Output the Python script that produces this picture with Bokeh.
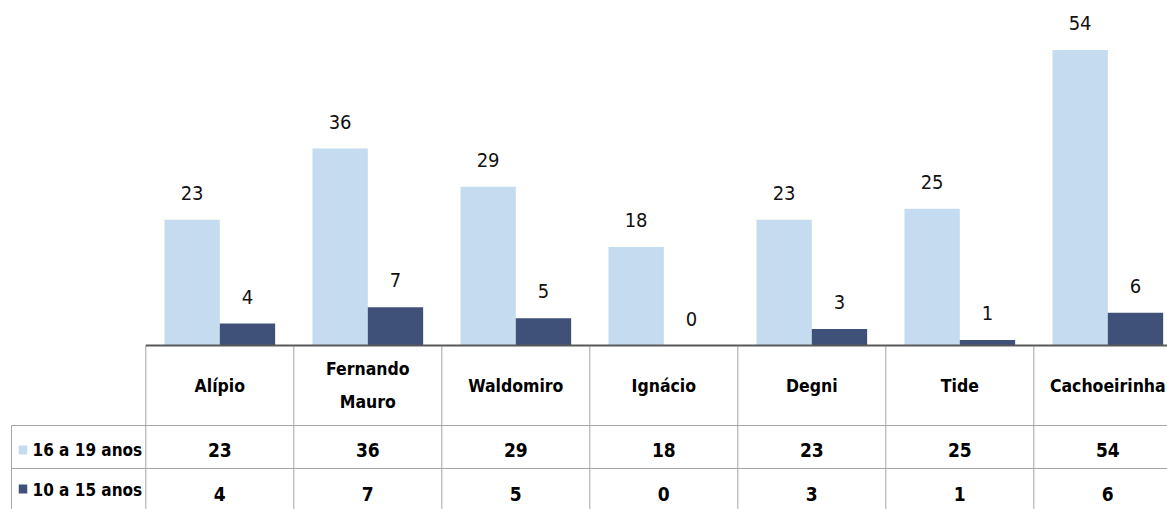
from bokeh.plotting import figure
from bokeh.models import Range1d, ColumnDataSource
from bokeh.transform import dodge
from bokeh.core.properties import value
from bokeh.embed import file_html
from bokeh.resources import INLINE

# ---- data ----
categories = ["Alípio", "Fernando Mauro", "Waldomiro", "Ignácio", "Degni", "Tide", "Cachoeirinha"]
series_names = ["16 a 19 anos", "10 a 15 anos"]
older = [23, 36, 29, 18, 23, 25, 54]     # 16 a 19 anos
younger = [4, 7, 5, 0, 3, 1, 6]          # 10 a 15 anos

# ---- style / layout ----
LIGHT = "#c5dbef"
DARK = "#3f5179"
FONT = "DejaVu Sans Condensed"
W, H = 1167, 509
CAT_PX = 148.0        # pixel width of one category
CAT0_PX = 145.3       # page x of first category boundary
BASE_PX = 345.0       # page y of bar baseline
UNIT_PX = 5.47        # pixels per value unit
PAGE_L, PAGE_T = 0, 0

X0 = (PAGE_L - CAT0_PX) / CAT_PX
X1 = (PAGE_L + W - CAT0_PX) / CAT_PX
Y1 = (BASE_PX - PAGE_T) / UNIT_PX
Y0 = (BASE_PX - (PAGE_T + H)) / UNIT_PX

p = figure(width=W, height=H, x_range=Range1d(X0, X1), y_range=Range1d(Y0, Y1),
           output_backend="svg", toolbar_location=None, min_border=0,
           x_axis_location=None, y_axis_location=None, outline_line_color=None)
p.grid.visible = False
p.extra_y_ranges = {"px": Range1d(start=PAGE_T + H, end=PAGE_T)}
p.extra_x_ranges = {"px": Range1d(start=PAGE_L, end=PAGE_L + W)}

n = len(categories)
src = ColumnDataSource(dict(
    x=[i + 0.5 for i in range(n)],
    older=older, younger=younger,
    older_lbl=[str(v) for v in older], younger_lbl=[str(v) for v in younger],
    header=[c.replace(" ", "\n") for c in categories],
))

BW = 0.374
p.vbar(x=dodge("x", -BW / 2), top="older", bottom=0, width=BW, source=src,
       fill_color=LIGHT, line_color=None)
p.vbar(x=dodge("x", BW / 2), top="younger", bottom=0, width=BW, source=src,
       fill_color=DARK, line_color=None)

lbl = dict(text_align="center", text_baseline="alphabetic", y_offset=-27,
           text_font=value(FONT), text_font_size="20px", text_color="#111111", source=src)
p.text(x=dodge("x", -BW / 2), y="older", text="older_lbl", **lbl)
p.text(x=dodge("x", BW / 2), y="younger", text="younger_lbl", **lbl)

# ---- data table under the chart ----
GRID = "#a6a6a6"
ROW1_TOP, ROW2_TOP, TBL_BOTTOM = 425, 468, 530
LEG_LEFT = 11
p.segment(x0=list(range(n + 1)), x1=list(range(n + 1)), y0=[BASE_PX] * (n + 1),
          y1=[TBL_BOTTOM] * (n + 1), y_range_name="px", line_color=GRID, line_width=1)
p.segment(x0=[LEG_LEFT, LEG_LEFT, LEG_LEFT], x1=[1300, 1300, LEG_LEFT],
          y0=[ROW1_TOP, ROW2_TOP, ROW1_TOP], y1=[ROW1_TOP, ROW2_TOP, TBL_BOTTOM],
          x_range_name="px", y_range_name="px", line_color=GRID, line_width=1)
# category axis line
p.segment(x0=[0], x1=[n + 1], y0=[0], y1=[0], line_color="#595959", line_width=2.2)

tbl = dict(text_align="center", text_baseline="middle", text_font=value(FONT),
           text_font_style="bold", text_color="#000000", y_range_name="px", source=src)
p.text(x="x", y=385, text="header", text_line_height=1.65, text_font_size="17.5px", **tbl)
p.text(x="x", y=449, text="older_lbl", text_font_size="19px", **tbl)
p.text(x="x", y=493, text="younger_lbl", text_font_size="19px", **tbl)

# legend keys in the table
p.rect(x=[22.5, 22.5], y=[449.5, 488.5], width=8.5, height=9, fill_color=[LIGHT, DARK],
       line_color=None, x_range_name="px", y_range_name="px")
p.text(x=[32, 32], y=[449, 489], text=series_names, text_align="left", text_baseline="middle",
       text_font=value(FONT), text_font_style="bold", text_font_size="17px",
       text_color="#000000", x_range_name="px", y_range_name="px")

open("out.html", "w").write(file_html(p, INLINE))
